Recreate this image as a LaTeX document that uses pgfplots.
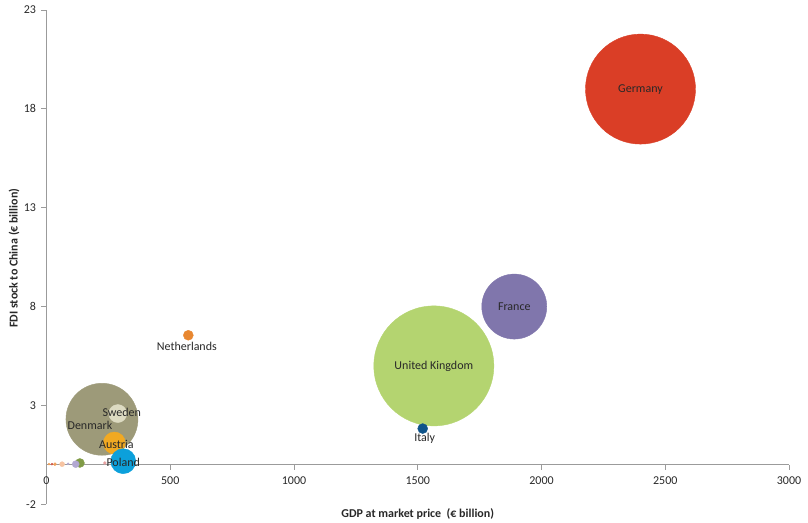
\documentclass[border=0pt]{standalone}
\usepackage{fontspec}
\setmainfont{Carlito}
\usepackage{pgfplots}
\usepackage{pgfplotstable}
\pgfplotsset{compat=1.18}

% bubble colours
\definecolor{cDE}{RGB}{218,62,38}
\definecolor{cFR}{RGB}{128,118,172}
\definecolor{cUK}{RGB}{180,212,112}
\definecolor{cIT}{RGB}{14,84,138}
\definecolor{cNL}{RGB}{232,135,48}
\definecolor{cDK}{RGB}{157,154,121}
\definecolor{cSE}{RGB}{221,219,194}
\definecolor{cAT}{RGB}{241,169,34}
\definecolor{cPL}{RGB}{12,160,219}
\definecolor{cGR}{RGB}{128,155,70}
\definecolor{cLV}{RGB}{178,168,210}
\definecolor{cPC}{RGB}{247,196,162}
\definecolor{cPK}{RGB}{230,160,160}
\definecolor{cRD}{RGB}{210,90,75}
\definecolor{cOR}{RGB}{240,160,90}
\definecolor{axisgray}{RGB}{155,155,155}
\definecolor{txt}{RGB}{40,40,40}

% label positions (dx, dy: nudges in pt)
\pgfplotstableread[col sep=comma]{
x,y,dx,dy,name
2400,19,0,0,Germany
1890,8,0,0,France
1565,5,0,0,United Kingdom
1520,1.83,2,-10,Italy
573,6.55,-1.5,-11,Netherlands
224,2.3,-12,-6,Denmark
288,2.59,4,1,Sweden
274,1.1,2,-1,Austria
310,0.18,0,-1,Poland
}\labeltab

\pgfplotsset{
  bubble/.style={only marks, mark=*, mark options={draw=#1, fill=#1}},
}

\begin{document}
\begin{tikzpicture}[x=1pt,y=1pt]
\path[use as bounding box] (-46.5,-17.7) rectangle (761.5,504.3);
\begin{axis}[
  at={(0,0)}, anchor=south west,
  scale only axis, width=742.5pt, height=494.3pt,
  xmin=0, xmax=3000, ymin=-2, ymax=23,
  axis x line=middle, axis y line=left,
  axis line style={-, draw=axisgray, line width=0.8pt},
  hide obscured x ticks=false,
  xtick={0,500,...,3000},
  ytick={-2,3,...,23},
  minor tick num=0,
  tick align=outside,
  major tick length=5pt,
  tick style={draw=axisgray, line width=0.8pt},
  /pgf/number format/assume math mode=true,
  /pgf/number format/1000 sep={},
  tick label style={font=\fontsize{12}{14}\selectfont, text=txt},
  xticklabel style={anchor=north, yshift=-3pt},
  yticklabel style={anchor=east, xshift=-2pt},
  xlabel={GDP at market price\ \ (€ billion)},
  ylabel={FDI stock to China (€ billion)},
  label style={font=\bfseries\fontsize{12}{14}\selectfont, text=txt},
  xlabel style={at={(axis description cs:0.5,0)}, anchor=center, yshift=-9.7pt},
  ylabel style={at={(axis description cs:0,0.498)}, anchor=center, yshift=32.5pt},
  clip=false,
]
% large economies
\addplot[bubble=cDE, mark size=55pt] coordinates {(2400,19)};
\addplot[bubble=cFR, mark size=32.5pt] coordinates {(1890,8)};
\addplot[bubble=cUK, mark size=60pt] coordinates {(1565,5)};
\addplot[bubble=cIT, mark size=5pt] coordinates {(1520,1.83)};
\addplot[bubble=cNL, mark size=5pt] coordinates {(573,6.55)};
% smaller economies
\addplot[bubble=cDK, mark size=36pt] coordinates {(224,2.3)};
\addplot[bubble=cSE, mark size=9pt] coordinates {(288,2.59)};
\addplot[bubble=cAT, mark size=11pt] coordinates {(274,1.1)};
\addplot[bubble=cPL, mark size=12.5pt] coordinates {(310,0.18)};
\addplot[bubble=cPK, mark size=1.5pt] coordinates {(236,0.09)};
\addplot[bubble=cGR, mark size=4.5pt] coordinates {(135,0.09)};
\addplot[bubble=cLV, mark size=3.5pt] coordinates {(118,0.03)};
\addplot[bubble=cLV, mark size=1pt] coordinates {(87,0.05)};
\addplot[bubble=cPC, mark size=2.5pt] coordinates {(63,0.03)};
\addplot[bubble=cOR, mark size=1.5pt] coordinates {(34,0.03)};
\addplot[bubble=cRD, mark size=1pt] coordinates {(22,0.03)};
\addplot[bubble=cOR, mark size=1pt] coordinates {(10,0.03)};
% country names
\addplot[draw=none, mark=none, point meta=explicit symbolic,
  nodes near coords,
  visualization depends on={\thisrow{dx}\as\dx},
  visualization depends on={\thisrow{dy}\as\dy},
  nodes near coords style={anchor=center, inner sep=0pt,
    font=\fontsize{12}{14}\selectfont, text=txt,
    xshift=\dx pt, yshift=\dy pt}]
  table[x=x, y=y, meta=name] {\labeltab};
\end{axis}
\end{tikzpicture}
\end{document}
